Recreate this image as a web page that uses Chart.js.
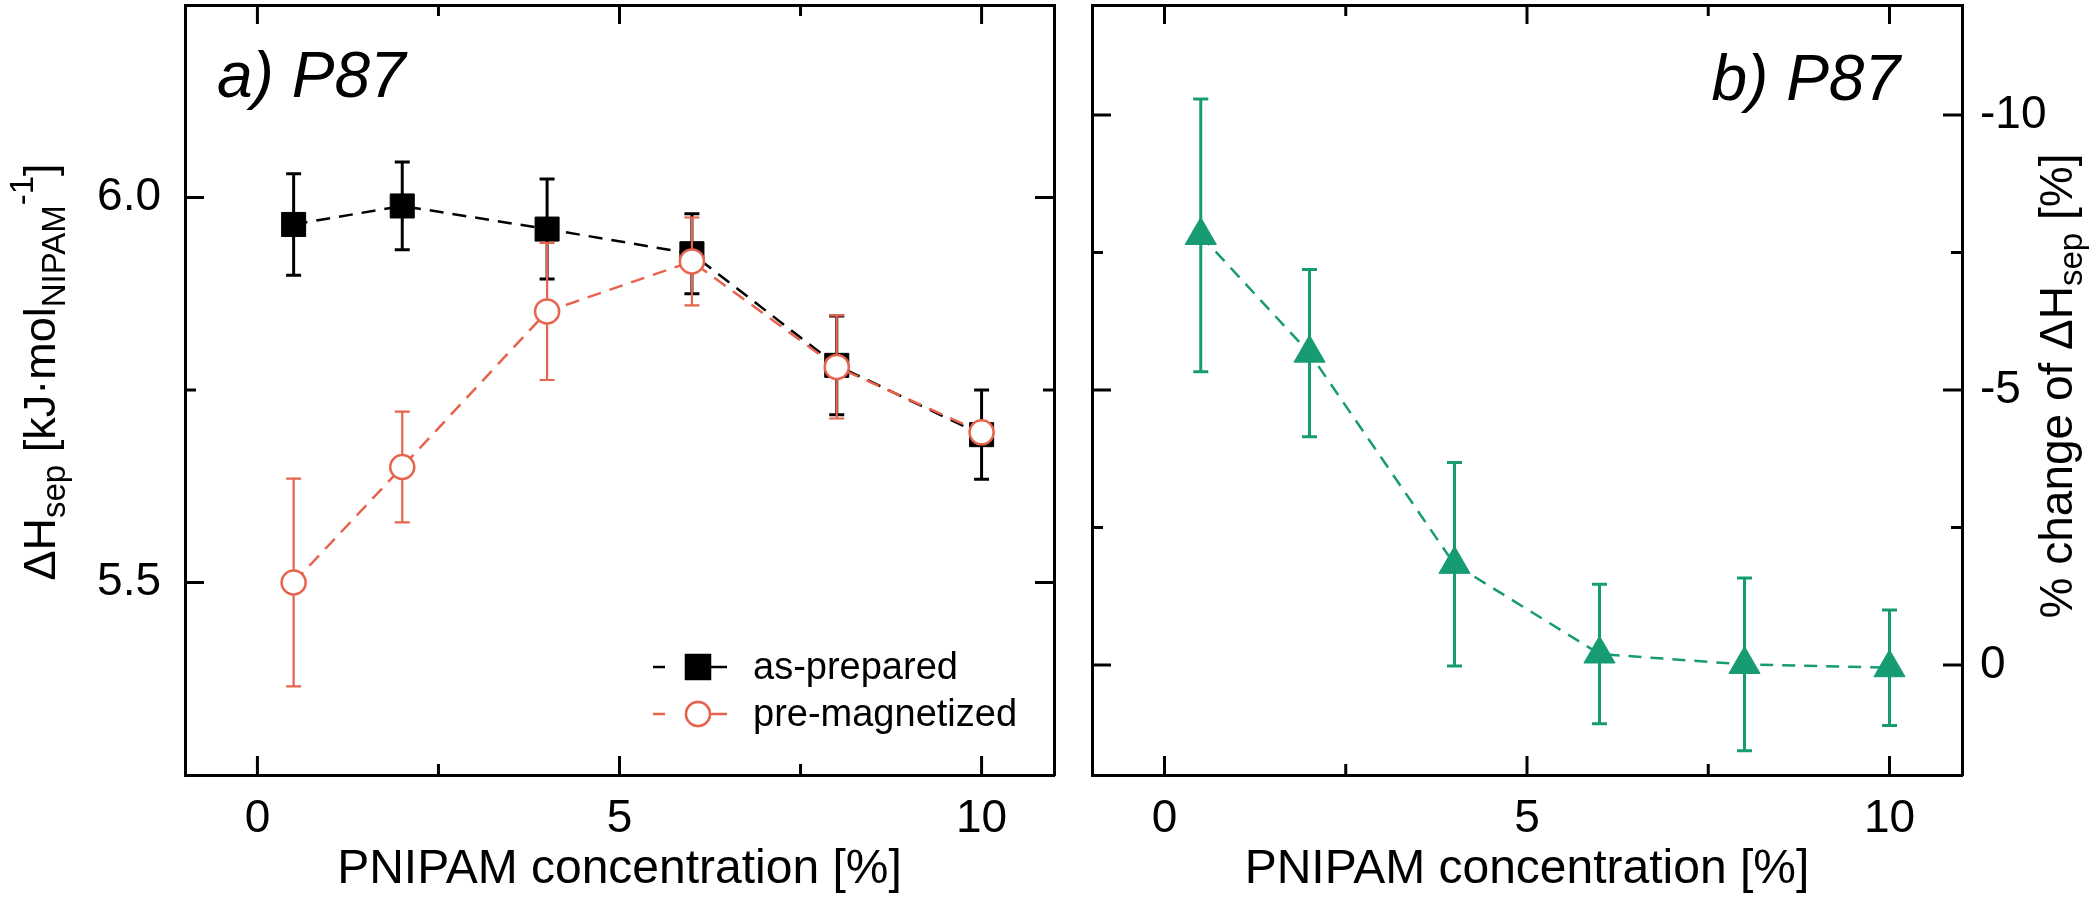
<!DOCTYPE html>
<html>
<head>
<meta charset="utf-8">
<script src="https://cdn.jsdelivr.net/npm/chart.js@4"></script>
<style>
  body { margin: 0; background: #fff; }
  #wrap { position: relative; width: 2100px; height: 905px; }
  canvas { position: absolute; top: 0; }
</style>
</head>
<body>
<div id="wrap">
  <canvas id="chartA" width="1073" height="905" style="left:0"></canvas>
  <canvas id="chartB" width="1027" height="905" style="left:1073px"></canvas>
</div>
<script>
// datos
const concentration = [0.5, 2, 4, 6, 8, 10];
const asPrepared = [5.965, 5.989, 5.959, 5.927, 5.782, 5.692];
const asPreparedErr = [0.066, 0.057, 0.065, 0.052, 0.064, 0.058];
const preMagnetized = [5.500, 5.650, 5.852, 5.917, 5.780, 5.695];
const preMagnetizedErr = [0.135, 0.072, 0.089, 0.057, 0.067, 0.01];
const percentChange = [-7.81, -5.67, -1.83, -0.20, -0.01, 0.05];
const percentChangeErr = [2.48, 1.52, 1.85, 1.27, 1.57, 1.05];

const xTicks = [0, 2.5, 5, 7.5, 10];
const yTicksA = [5.5, 5.75, 6.0];
const yTicksB = [-10, -7.5, -5, -2.5, 0];
const legendLabels = ['as-prepared', 'pre-magnetized'];

const FONT = "'Liberation Sans', Arial, sans-serif";
const RED = '#E8634C';
const GREEN = '#179B73';

const toPoints = (xs, ys) => xs.map((x, i) => ({ x: x, y: ys[i] }));
const isMultiple = (v, step) => Math.abs(v / step - Math.round(v / step)) < 1e-6;

// barras de error, dibujadas antes de cada dataset
const errorBars = {
  id: 'errorBars',
  beforeDatasetDraw(chart, args) {
    const ds = chart.data.datasets[args.index];
    if (!ds.errors) return;
    const yScale = chart.scales[args.meta.yAxisID];
    const ctx = chart.ctx;
    ctx.save();
    ctx.strokeStyle = ds.errorColor || ds.borderColor;
    ctx.lineWidth = ds.errorWidth || 3;
    args.meta.data.forEach((pt, i) => {
      const v = ds.data[i].y, e = ds.errors[i];
      const y1 = yScale.getPixelForValue(v - e);
      const y2 = yScale.getPixelForValue(v + e);
      ctx.beginPath();
      ctx.moveTo(pt.x, y1); ctx.lineTo(pt.x, y2);
      ctx.moveTo(pt.x - 7.5, y1); ctx.lineTo(pt.x + 7.5, y1);
      ctx.moveTo(pt.x - 7.5, y2); ctx.lineTo(pt.x + 7.5, y2);
      ctx.stroke();
    });
    ctx.restore();
  }
};

// marcas de los ejes hacia dentro
const inwardTicks = {
  id: 'inwardTicks',
  beforeDatasetsDraw(chart, args, opts) {
    const ctx = chart.ctx;
    const area = chart.chartArea;
    ctx.save();
    ctx.strokeStyle = '#000';
    ctx.lineWidth = 3;
    Object.values(chart.scales).forEach(scale => {
      const step = opts.major[scale.id];
      scale.ticks.forEach(t => {
        const len = isMultiple(t.value, step) ? 19 : 11;
        const p = scale.getPixelForValue(t.value);
        ctx.beginPath();
        if (scale.position === 'bottom') { ctx.moveTo(p, area.bottom); ctx.lineTo(p, area.bottom - len); }
        if (scale.position === 'top') { ctx.moveTo(p, area.top); ctx.lineTo(p, area.top + len); }
        if (scale.position === 'left') { ctx.moveTo(area.left, p); ctx.lineTo(area.left + len, p); }
        if (scale.position === 'right') { ctx.moveTo(area.right, p); ctx.lineTo(area.right - len, p); }
        ctx.stroke();
      });
    });
    ctx.restore();
  }
};

function drawRich(ctx, parts, cx, cy, angle) {
  ctx.save();
  ctx.translate(cx, cy);
  ctx.rotate(angle);
  ctx.fillStyle = '#000';
  ctx.textAlign = 'left';
  ctx.textBaseline = 'alphabetic';
  let total = 0;
  parts.forEach(p => {
    ctx.font = p.size + 'px ' + FONT;
    p.w = ctx.measureText(p.text).width;
    total += p.w;
  });
  let pos = -total / 2;
  parts.forEach(p => {
    ctx.font = p.size + 'px ' + FONT;
    ctx.fillText(p.text, pos, p.dy || 0);
    pos += p.w;
  });
  ctx.restore();
}

// titulos con subindices, etiquetas de panel y leyenda
const decorations = {
  id: 'decorations',
  afterDraw(chart, args, opts) {
    const ctx = chart.ctx;
    ctx.save();
    ctx.fillStyle = '#000';
    ctx.font = 'italic 64px ' + FONT;
    ctx.textBaseline = 'alphabetic';
    ctx.textAlign = opts.panel.align;
    ctx.fillText(opts.panel.text, opts.panel.x, opts.panel.y);
    ctx.restore();

    drawRich(ctx, opts.yTitle.parts, opts.yTitle.x, opts.yTitle.y, -Math.PI / 2);

    if (opts.legend) {
      const L = opts.legend;
      chart.data.datasets.slice().sort((a, b) => a.legendRank - b.legendRank).forEach((ds, i) => {
        const y = L.y + i * L.dy;
        ctx.save();
        ctx.strokeStyle = ds.borderColor;
        ctx.lineWidth = 2.5;
        ctx.setLineDash([12, 46, 16, 100]);
        ctx.beginPath();
        ctx.moveTo(L.x - 45, y); ctx.lineTo(L.x + 29, y);
        ctx.stroke();
        ctx.setLineDash([]);
        Chart.helpers.drawPoint(ctx, {
          pointStyle: ds.pointStyle, radius: ds.pointRadius, borderWidth: ds.pointBorderWidth, rotation: 0
        }, L.x, y);
        ctx.fillStyle = ds.pointBackgroundColor;
        ctx.strokeStyle = ds.borderColor;
        ctx.lineWidth = ds.pointBorderWidth;
        ctx.fill();
        ctx.stroke();
        ctx.fillStyle = '#000';
        ctx.font = '38px ' + FONT;
        ctx.textBaseline = 'middle';
        ctx.fillText(legendLabels[ds.legendRank], L.x + 55, y + 2);
        ctx.restore();
      });
    }
  }
};

function noPad(s) {
  s.paddingTop = 0; s.paddingBottom = 0; s.paddingLeft = 0; s.paddingRight = 0;
}

function xAxis(pos, showLabels) {
  return {
    type: 'linear', position: pos, min: -1, max: 11,
    afterBuildTicks: s => { s.ticks = xTicks.map(v => ({ value: v })); },
    afterFit: s => { s.height = pos === 'bottom' ? 130 : 5; noPad(s); },
    grid: { drawOnChartArea: false, drawTicks: false },
    border: { display: true, color: '#000', width: 3 },
    ticks: {
      display: showLabels, padding: 17, color: '#000',
      font: { family: FONT, size: 46 },
      callback: v => (isMultiple(v, 5) ? String(v) : '')
    },
    title: {
      display: showLabels, text: 'PNIPAM concentration [%]', color: '#000',
      font: { family: FONT, size: 48 }, padding: { top: 0, bottom: 6 }
    }
  };
}

function yAxis(pos, min, max, ticks, reverse, width, showLabels, fmt, pad) {
  return {
    type: 'linear', position: pos, min: min, max: max, reverse: reverse,
    afterBuildTicks: s => { s.ticks = ticks.map(v => ({ value: v })); },
    afterFit: s => { s.width = width; noPad(s); },
    grid: { drawOnChartArea: false, drawTicks: false },
    border: { display: true, color: '#000', width: 3 },
    ticks: {
      display: showLabels, padding: pad, color: '#000',
      font: { family: FONT, size: 46 },
      callback: fmt
    }
  };
}

const baseOptions = {
  responsive: false,
  animation: false,
  devicePixelRatio: 1,
  layout: { padding: 0, autoPadding: false },
  events: []
};

new Chart(document.getElementById('chartA'), {
  type: 'scatter',
  data: {
    datasets: [
      {
        label: legendLabels[1], legendRank: 1, order: 0,
        data: toPoints(concentration, preMagnetized), errors: preMagnetizedErr, errorWidth: 2.2,
        showLine: true, borderColor: RED, borderWidth: 2.5, borderDash: [14, 9],
        pointStyle: 'circle', pointRadius: 12, pointBorderWidth: 2.5,
        pointBackgroundColor: '#fff', pointBorderColor: RED, backgroundColor: '#fff',
        xAxisID: 'x', yAxisID: 'y'
      },
      {
        label: legendLabels[0], legendRank: 0, order: 1,
        data: toPoints(concentration, asPrepared), errors: asPreparedErr, errorWidth: 3,
        showLine: true, borderColor: '#000', borderWidth: 2.5, borderDash: [14, 9],
        pointStyle: 'rect', pointRadius: 17, pointBorderWidth: 1,
        pointBackgroundColor: '#000', pointBorderColor: '#000', backgroundColor: '#000',
        xAxisID: 'x', yAxisID: 'y'
      }
    ]
  },
  options: Object.assign({}, baseOptions, {
    scales: {
      x: xAxis('bottom', true),
      xt: xAxis('top', false),
      y: yAxis('left', 5.25, 6.25, yTicksA, false, 185, true, v => (isMultiple(v, 0.5) ? v.toFixed(1) : ''), 24),
      y2: yAxis('right', 5.25, 6.25, yTicksA, false, 19, false, () => '', 0)
    },
    plugins: {
      legend: { display: false },
      tooltip: { enabled: false },
      inwardTicks: { major: { x: 5, xt: 5, y: 0.5, y2: 0.5 } },
      decorations: {
        panel: { text: 'a) P87', x: 217, y: 97, align: 'left' },
        yTitle: {
          x: 55, y: 372,
          parts: [
            { text: '\u0394H', size: 45 },
            { text: 'sep', size: 33, dy: 10 },
            { text: ' [kJ\u00B7mol', size: 45 },
            { text: 'NIPAM', size: 33, dy: 10 },
            { text: '-1', size: 33, dy: -22 },
            { text: ']', size: 45 }
          ]
        },
        legend: { x: 698, y: 667, dy: 47 }
      }
    }
  }),
  plugins: [errorBars, inwardTicks, decorations]
});

new Chart(document.getElementById('chartB'), {
  type: 'scatter',
  data: {
    datasets: [
      {
        label: '% change', data: toPoints(concentration, percentChange), errors: percentChangeErr, errorWidth: 3,
        showLine: true, borderColor: GREEN, borderWidth: 2.5, borderDash: [13, 9],
        pointStyle: 'triangle', pointRadius: 18, pointBorderWidth: 1,
        pointBackgroundColor: GREEN, pointBorderColor: GREEN, backgroundColor: GREEN,
        xAxisID: 'x', yAxisID: 'yr'
      }
    ]
  },
  options: Object.assign({}, baseOptions, {
    scales: {
      x: xAxis('bottom', true),
      xt: xAxis('top', false),
      yl: yAxis('left', -12, 2, yTicksB, true, 19, false, () => '', 0),
      yr: yAxis('right', -12, 2, yTicksB, true, 138, true, v => (isMultiple(v, 5) ? String(v) : ''), 18)
    },
    plugins: {
      legend: { display: false },
      tooltip: { enabled: false },
      inwardTicks: { major: { x: 5, xt: 5, yl: 5, yr: 5 } },
      decorations: {
        panel: { text: 'b) P87', x: 827, y: 100, align: 'right' },
        yTitle: {
          x: 999, y: 386,
          parts: [
            { text: '% change of \u0394H', size: 46 },
            { text: 'sep', size: 33, dy: 10 },
            { text: ' [%]', size: 46 }
          ]
        }
      }
    }
  }),
  plugins: [errorBars, inwardTicks, decorations]
});
</script>
</body>
</html>
